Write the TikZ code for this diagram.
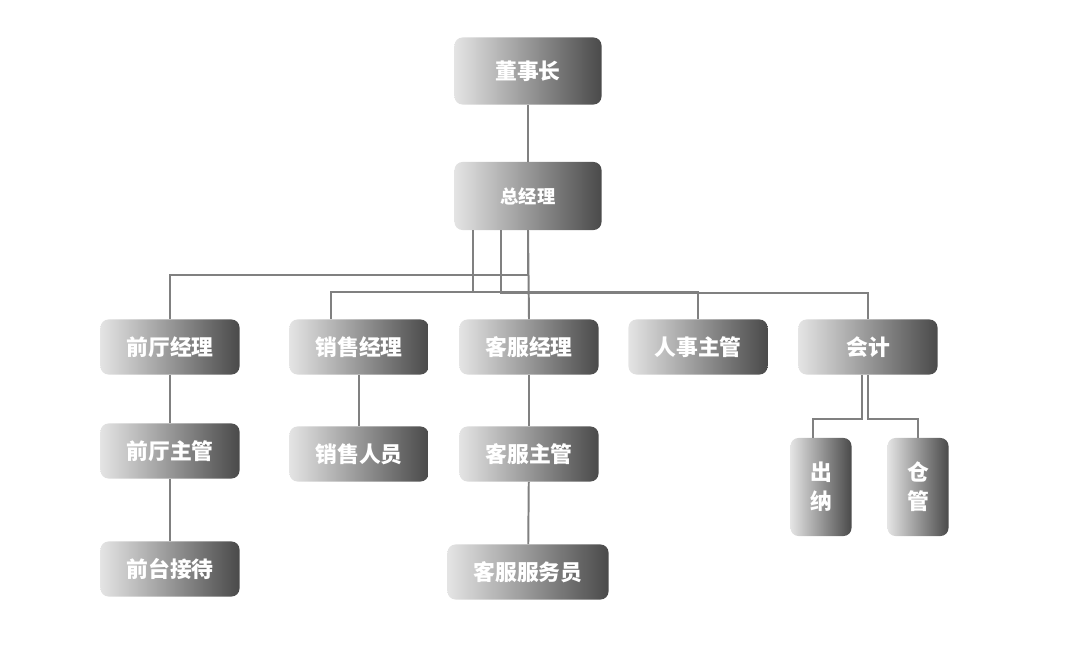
\documentclass[tikz,border=0pt]{standalone}
\usepackage{fontspec}
\newfontfamily\cjk{Noto Sans CJK SC}
\usepackage{tikz}
\usetikzlibrary{shapes, arrows}

\definecolor{boxlight}{HTML}{E4E4E4}
\definecolor{boxdark}{HTML}{4A4A4A}
\definecolor{linegray}{HTML}{808080}

\begin{document}
\begin{tikzpicture}[x=0.025cm, y=-0.025cm,
        post/.style = {rounded corners=0.2cm, left color=boxlight, right color=boxdark,
                minimum width=3.475cm, minimum height=1.375cm, inner sep=0pt,
                text=white, font=\cjk\bfseries\fontsize{15.5}{15.5}\selectfont},
        tall/.style = {post, minimum width=1.525cm, minimum height=2.45cm, align=center},
        conn/.style = {draw=linegray, line width=1.4pt}]
                \useasboundingbox (0,0) rectangle (1070,656);

                \node[post, minimum width=3.675cm, minimum height=1.675cm] at (528, 71) (dsz) {董事长};
                \node[post, minimum width=3.675cm, minimum height=1.7cm, font=\cjk\bfseries\fontsize{13}{13}\selectfont] at (528, 196) (zjl) {总经理};

                \node[post] at (170, 347) (qt) {前厅经理};
                \node[post] at (359, 347) (xs) {销售经理};
                \node[post] at (529, 347) (kf) {客服经理};
                \node[post] at (698, 347) (rs) {人事主管};
                \node[post] at (868, 347) (kj) {会计};

                \node[post] at (170, 451) (qtzg) {前厅主管};
                \node[post] at (359, 454) (xsry) {销售人员};
                \node[post] at (529, 454) (kfzg) {客服主管};
                \node[post] at (170, 569) (qtjd) {前台接待};
                \node[post, minimum width=4.025cm] at (528, 572) (kffw) {客服服务员};

                \node[tall] at (821, 487) (cn) {出\\[5pt]纳};
                \node[tall] at (918, 487) (cg) {仓\\[5pt]管};

                \draw[conn] (dsz) -- (zjl);
                \draw[conn] (zjl.south) -- (kf.north);
                \draw[conn] (zjl.south) -- ++(0,45) -| (qt.north);
                \draw[conn] ([xshift=-1.375cm]zjl.south) -- ++(0,62) -| (rs.north);
                \draw[conn] ([xshift=-0.675cm]zjl.south) -- ++(0,62) -| ([xshift=-0.7cm]xs.north);
                \draw[conn] ([xshift=-0.675cm]zjl.south) -- ++(0,63) -| (kj.north);

                \draw[conn] (qt) -- (qtzg);
                \draw[conn] (qtzg) -- (qtjd);
                \draw[conn] (xs) -- (xsry);
                \draw[conn] (kf) -- (kfzg);
                \draw[conn] (kfzg) -- (kffw);

                \draw[conn] (kj.south) -- ++(0,44) -| (cg.north);
                \draw[conn] ([xshift=-0.15cm]kj.south) -- ++(0,44) -| ([xshift=-0.2cm]cn.north);
\end{tikzpicture}
\end{document}
